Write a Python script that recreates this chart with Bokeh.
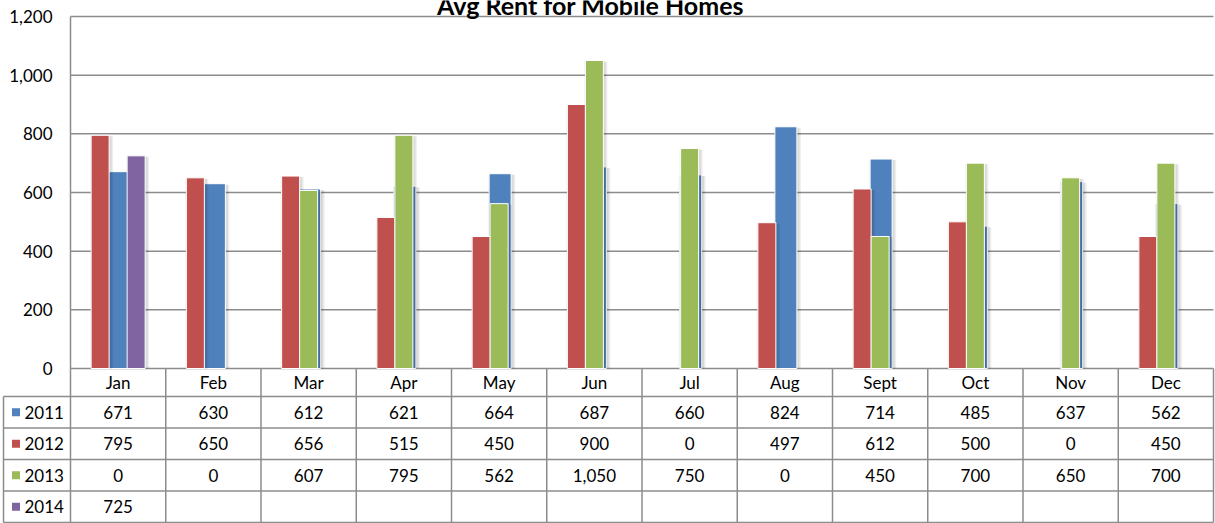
from bokeh.plotting import figure
from bokeh.models import Range1d
from bokeh.core.properties import value
from bokeh.embed import file_html
from bokeh.resources import INLINE

# ---------------- data ----------------
title = "Avg Rent for Mobile Homes"
months = ["Jan", "Feb", "Mar", "Apr", "May", "Jun", "Jul", "Aug", "Sept", "Oct", "Nov", "Dec"]
years = ["2011", "2012", "2013", "2014"]
rent_2011 = [671, 630, 612, 621, 664, 687, 660, 824, 714, 485, 637, 562]
rent_2012 = [795, 650, 656, 515, 450, 900, 0, 497, 612, 500, 0, 450]
rent_2013 = [0, 0, 607, 795, 562, 1050, 750, 0, 450, 700, 650, 700]
rent_2014 = [725]
y_ticks = [0, 200, 400, 600, 800, 1000, 1200]

# ---------------- layout ----------------
W, H = 1215, 523
PX0, PXU = 70, 95.25         # pixel of month 0, pixels per month
PY0, PYU = 368, 352 / 1200   # pixel of value 0, pixels per unit


def fx(px):
    return (px - PX0) / PXU


def fy(py):
    return (PY0 - py) / PYU


def dx(pix):
    return pix / PXU


def dy(pix):
    return pix / PYU


colors = {"2011": "#4F81BD", "2012": "#C0504D", "2013": "#9BBB59", "2014": "#8064A2"}
GRID = "#8c8c8c"
FONT = value("Lato")

p = figure(width=W, height=H,
           x_range=Range1d(fx(0), fx(W)),
           y_range=Range1d(fy(H), fy(0)),
           x_axis_type=None, y_axis_type=None,
           output_backend="svg", toolbar_location=None,
           min_border=0, outline_line_color=None,
           background_fill_color="white", border_fill_color="white")
p.grid.visible = False

# gridlines and left axis line
p.segment(x0=[fx(70)] * len(y_ticks), x1=[fx(1213)] * len(y_ticks),
          y0=y_ticks, y1=y_ticks, line_color=GRID, line_width=1.5)
p.segment(x0=[fx(70)], x1=[fx(70)], y0=[fy(521.5)], y1=[max(y_ticks)],
          line_color=GRID, line_width=1.5)

# y tick labels
p.text(x=[fx(52)] * len(y_ticks), y=y_ticks, text=[f"{t:,}" for t in y_ticks],
       text_align="right", text_baseline="middle", text_font=FONT,
       text_font_size="17px", text_color="#000000")

# title (partially cut at top like the reference)
p.text(x=[fx(590)], y=[fy(4)], text=[title], text_align="center",
       text_baseline="middle", text_font=FONT, text_font_style="bold",
       text_font_size="25px", text_color="#000000")

# ---------------- bars ----------------
centers = [i + 0.5 for i in range(len(months))]


def draw(vals, offset_px, width_px, color):
    xs = [centers[i] + dx(offset_px) for i, v in enumerate(vals) if v > 0]
    tops = [v for v in vals if v > 0]
    # soft shadow
    p.vbar(x=[x + dx(1.5) for x in xs], top=[t - dy(1) for t in tops], bottom=0,
           width=dx(width_px + 5), fill_color="#000000", fill_alpha=0.07, line_color=None)
    p.vbar(x=[x + dx(1.5) for x in xs], top=[t - dy(1) for t in tops], bottom=0,
           width=dx(width_px + 2), fill_color="#000000", fill_alpha=0.08, line_color=None)
    p.vbar(x=xs, top=tops, bottom=0, width=dx(width_px),
           fill_color=color, line_color="white", line_width=1)


draw(rent_2011, 1, 22, colors["2011"])
draw(rent_2012, -18, 18, colors["2012"])
draw(rent_2013, 0, 18, colors["2013"])
draw(rent_2014, 18, 18, colors["2014"])

# ---------------- data table ----------------
HEAD_TOP, HEAD_BOT, ROW_H = 368, 396, 31.5
TABLE_L, TABLE_R = 3, 1213
row_lines = [HEAD_BOT + k * ROW_H for k in range(len(years) + 1)]
p.segment(x0=[fx(TABLE_L)] * len(row_lines), x1=[fx(TABLE_R)] * len(row_lines),
          y0=[fy(r) for r in row_lines], y1=[fy(r) for r in row_lines],
          line_color=GRID, line_width=1.5)
col_x = [PX0 + k * PXU for k in range(1, len(months) + 1)]
p.segment(x0=[fx(c) for c in col_x], x1=[fx(c) for c in col_x],
          y0=[0] * len(col_x), y1=[fy(row_lines[-1])] * len(col_x),
          line_color=GRID, line_width=1.5)
p.segment(x0=[fx(TABLE_L)], x1=[fx(TABLE_L)], y0=[fy(HEAD_BOT)], y1=[fy(row_lines[-1])],
          line_color=GRID, line_width=1.5)

# header (month names)
p.text(x=centers, y=[fy((HEAD_TOP + HEAD_BOT) / 2)] * len(months), text=months,
       text_align="center", text_baseline="middle", text_font=FONT,
       text_font_size="17px", text_color="#000000")

series = [rent_2011, rent_2012, rent_2013, rent_2014]
for k, (yr, vals) in enumerate(zip(years, series)):
    yc = fy(HEAD_BOT + (k + 0.5) * ROW_H)
    p.scatter(x=[fx(15.5)], y=[yc], marker="square", size=8,
              fill_color=colors[yr], line_color=None)
    p.text(x=[fx(24)], y=[yc], text=[yr], text_align="left", text_baseline="middle",
           text_font=FONT, text_font_size="17px", text_color="#000000")
    p.text(x=centers[:len(vals)], y=[yc] * len(vals), text=[f"{v:,}" for v in vals],
           text_align="center", text_baseline="middle", text_font=FONT,
           text_font_size="17px", text_color="#000000")

open("out.html", "w").write(file_html(p, INLINE))
